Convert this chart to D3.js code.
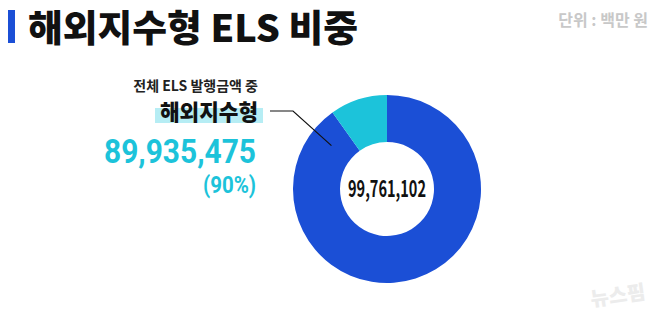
<!DOCTYPE html>
<html>
<head>
<meta charset="utf-8">
<script src="https://cdn.jsdelivr.net/npm/d3@7"></script>
<style>
  html, body { margin: 0; padding: 0; background: #fff; }
  svg { display: block; font-family: "Noto Sans CJK KR", "Noto Sans", sans-serif; }
</style>
</head>
<body>
<div id="chart"></div>
<script>
// data
const categories = ["해외지수형", "기타"];
const values = [89935475, 9825627];
const total = 99761102;
const shareLabel = "(90%)";
const colors = ["#1b4fd6", "#1cc3da"];

const width = 658, height = 314;
const cx = 387, cy = 189;
const outerR = 94, innerR = 47;

const svg = d3.select("#chart").append("svg")
  .attr("width", width)
  .attr("height", height);

// title
svg.append("rect")
  .attr("x", 8).attr("y", 10)
  .attr("width", 7).attr("height", 33)
  .attr("fill", "#1b4fd6");

svg.append("text")
  .attr("x", 28).attr("y", 42)
  .attr("font-size", 37).attr("font-weight", 900)
  .attr("fill", "#111")
  .attr("textLength", 330).attr("lengthAdjust", "spacingAndGlyphs")
  .text("해외지수형 ELS 비중");

svg.append("text")
  .attr("x", 648).attr("y", 26)
  .attr("text-anchor", "end")
  .attr("font-size", 16).attr("font-weight", 700)
  .attr("fill", "#c8c8c8")
  .text("단위 : 백만 원");

// donut
const pie = d3.pie().sort(null).value(d => d);
const arc = d3.arc().innerRadius(innerR).outerRadius(outerR);
const g = svg.append("g").attr("transform", `translate(${cx},${cy})`);

g.selectAll("path")
  .data(pie(values))
  .join("path")
  .attr("d", arc)
  .attr("fill", (d, i) => colors[i]);

g.append("text")
  .attr("x", 0).attr("y", 8)
  .attr("text-anchor", "middle")
  .attr("font-size", 23).attr("font-weight", 700)
  .attr("fill", "#111")
  .attr("textLength", 78).attr("lengthAdjust", "spacingAndGlyphs")
  .text(d3.format(",")(total));

// leader line from the blue slice
const leadAngle = -52 * Math.PI / 180;
const leadR = (innerR + outerR) / 2;
const p0 = [cx + leadR * Math.sin(leadAngle), cy - leadR * Math.cos(leadAngle)];
svg.append("polyline")
  .attr("points", [[270, 111], [293, 111], p0].map(p => p.join(",")).join(" "))
  .attr("fill", "none")
  .attr("stroke", "#111")
  .attr("stroke-width", 1.2);

// left annotation
svg.append("text")
  .attr("x", 258).attr("y", 91)
  .attr("text-anchor", "end")
  .attr("font-size", 14).attr("font-weight", 700)
  .attr("fill", "#222")
  .text("전체 ELS 발행금액 중");

svg.append("rect")
  .attr("x", 155).attr("y", 108)
  .attr("width", 108).attr("height", 15)
  .attr("fill", "#b6edf4");

svg.append("text")
  .attr("x", 258).attr("y", 120)
  .attr("text-anchor", "end")
  .attr("font-size", 22).attr("font-weight", 900)
  .attr("fill", "#111")
  .attr("textLength", 98).attr("lengthAdjust", "spacingAndGlyphs")
  .text(categories[0]);

svg.append("text")
  .attr("x", 256).attr("y", 163)
  .attr("text-anchor", "end")
  .attr("font-family", "Roboto, sans-serif")
  .attr("font-size", 34).attr("font-weight", 700)
  .attr("fill", colors[1])
  .attr("textLength", 152).attr("lengthAdjust", "spacingAndGlyphs")
  .text(d3.format(",")(values[0]));

svg.append("text")
  .attr("x", 256).attr("y", 193)
  .attr("text-anchor", "end")
  .attr("font-family", "Roboto, sans-serif")
  .attr("font-size", 23).attr("font-weight", 700)
  .attr("fill", colors[1])
  .attr("textLength", 53).attr("lengthAdjust", "spacingAndGlyphs")
  .text(shareLabel);

// watermark
svg.append("text")
  .attr("x", 645).attr("y", 303)
  .attr("text-anchor", "end")
  .attr("font-size", 20).attr("font-weight", 900)
  .attr("fill", "#ececec")
  .attr("transform", "rotate(-8 615 292)")
  .text("뉴스핌");
</script>
</body>
</html>
